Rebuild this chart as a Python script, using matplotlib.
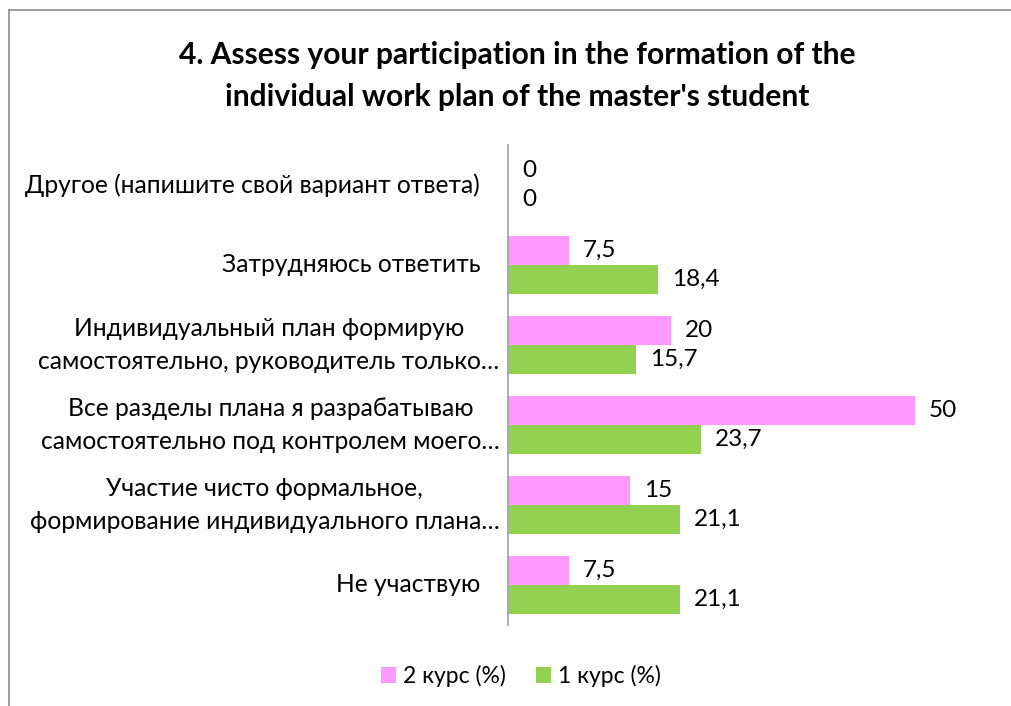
import matplotlib.pyplot as plt
import numpy as np
from matplotlib.lines import Line2D

PINK = "#FF99FF"
GREEN = "#92D050"
AXIS = "#A6A6A6"

categories = [
    "Не участвую",
    "Участие чисто формальное,\nформирование индивидуального плана…",
    "Все разделы плана я разрабатываю\nсамостоятельно под контролем моего…",
    "Индивидуальный план формирую\nсамостоятельно, руководитель только…",
    "Затрудняюсь ответить",
    "Другое (напишите свой вариант ответа)",
]
course2 = [7.5, 15, 50, 20, 7.5, 0]
course1 = [21.1, 21.1, 23.7, 15.7, 18.4, 0]
series_names = ["2 курс (%)", "1 курс (%)"]

plt.rcParams["font.family"] = ["Lato", "DejaVu Sans"]

W, H = 1011, 706
fig = plt.figure(figsize=(W / 100, H / 100), dpi=100)
fig.patch.set_facecolor("white")

# chart frame (cut off at right and bottom like the source)
fig.add_artist(Line2D([9 / W, 9 / W], [0, 1 - 10 / H], color="#8C8C8C", lw=1.2))
fig.add_artist(Line2D([9 / W, 1], [1 - 10 / H, 1 - 10 / H], color="#8C8C8C", lw=1.2))

left, right = 508, 990
top, bottom = 145, 625
ax = fig.add_axes([left / W, 1 - bottom / H, (right - left) / W, (bottom - top) / H])
scale = 407 / 50
ax.set_xlim(0, (right - left) / scale)
ax.set_ylim(-0.5, len(categories) - 0.5)

y = np.arange(len(categories))
h = 0.36
b2 = ax.barh(y + h / 2, course2, height=h, color=PINK, label=series_names[0])
b1 = ax.barh(y - h / 2, course1, height=h, color=GREEN, label=series_names[1])

fmt = lambda v: f"{v:g}".replace(".", ",")
for bars, vals in ((b2, course2), (b1, course1)):
    for bar, v in zip(bars, vals):
        ax.annotate(fmt(v), (v, bar.get_y() + bar.get_height() / 2),
                    xytext=(10, 0), textcoords="offset points",
                    ha="left", va="center", fontsize=17.5, color="#000000")

for s in ("top", "right", "bottom"):
    ax.spines[s].set_visible(False)
ax.spines["left"].set_color(AXIS)
ax.spines["left"].set_linewidth(1.3)
ax.set_xticks([])
ax.set_yticks(y)
ax.set_yticklabels([])
ax.tick_params(axis="y", length=0)

# category labels: single lines sit further from the axis than wrapped ones
for yi, cat in zip(y, categories):
    gap = -6 if "\n" in cat else -20
    ax.annotate(cat, (0, yi), xycoords=ax.get_yaxis_transform(),
                xytext=(gap, 0), textcoords="offset points",
                ha="right", va="center", multialignment="center",
                fontsize=17.7, linespacing=1.48, annotation_clip=False)

fig.text(517 / W, 1 - 76 / H,
         "4. Assess your participation in the formation of the\nindividual work plan of the master's student",
         ha="center", va="center", fontsize=21.6, fontweight="bold", linespacing=1.6)

fig.legend(handles=[b2, b1], labels=series_names, loc="center",
           bbox_to_anchor=(521 / W, 1 - 676 / H), ncol=2, frameon=False,
           fontsize=16.5, handlelength=0.68, handleheight=0.68,
           handletextpad=0.3, columnspacing=1.3)

fig.savefig("out.png", dpi=100)
